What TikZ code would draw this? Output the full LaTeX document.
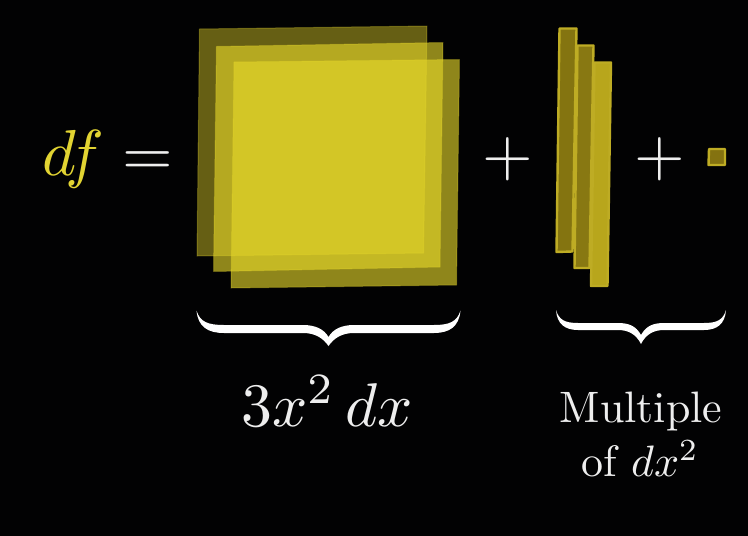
\documentclass[tikz,border=0pt]{standalone}
\usepackage{amsmath}
\definecolor{bgk}{RGB}{2,2,3}
\definecolor{ylw}{RGB}{230,216,42}
\definecolor{ylwtext}{RGB}{226,212,50}
\definecolor{edge}{RGB}{190,172,36}
\definecolor{whtext}{RGB}{238,238,238}
\tikzset{
  sheetA/.style={fill=ylw,fill opacity=.44,draw=ylw,draw opacity=.3,line width=1pt,line join=round},
  sheetB/.style={fill=ylw,fill opacity=.62,draw=ylw,draw opacity=.3,line width=1pt,line join=round},
  stripe/.style={draw=edge,line width=2.4pt,line join=round},
  curly/.style={fill=white,draw=none},
  bigmath/.style={text=whtext,scale=6.5,anchor=base,inner sep=0pt,outer sep=0pt},
  smalltext/.style={text=whtext,scale=4.4,anchor=base,inner sep=0pt,outer sep=0pt}
}
\begin{document}
\begin{tikzpicture}[x=1pt,y=-1pt]
\useasboundingbox (0,0) rectangle (748,536);
\fill[bgk] (0,0) rectangle (748,536);
% layered squares
\path[sheetA] (199.5,29) -- (427,26) -- (423.5,253) -- (197,256) -- cycle;
\path[sheetB] (216.5,46.5) -- (443,42.5) -- (440,267) -- (213.5,271.5) -- cycle;
\path[sheetB] (234,62) -- (459.5,59.5) -- (456.5,285) -- (231,288) -- cycle;
% layered strips
\path[stripe,fill={rgb,255:red,132;green,116;blue,16}] (559.5,28.5) -- (576.5,28.5) -- (572.5,251.5) -- (556.5,252) -- cycle;
\path[stripe,fill={rgb,255:red,136;green,120;blue,18}] (577.5,45.5) -- (593.5,45.5) -- (589.5,268) -- (574.5,268) -- cycle;
\path[stripe,fill={rgb,255:red,184;green,166;blue,28}] (594.5,62.5) -- (611,62.5) -- (607.5,286) -- (591,286) -- cycle;
% tiny cube
\path[stripe,fill={rgb,255:red,132;green,114;blue,16}] (709,149) -- (725,149) -- (725,165) -- (708.5,165) -- cycle;
% formula
\node[bigmath,text=ylwtext] (lhs) at (73,175) {$df$};
\node[bigmath] (eq) at (148,175) {$=$};
\node[bigmath] (plusa) at (508,175) {$+$};
\node[bigmath] (plusb) at (660,175) {$+$};
% braces
\path[curly] (196.5,310.5) .. controls (200,322) and (208,325) .. (224,325) -- (303,325)
  .. controls (315,325) and (324,329) .. (328.5,337)
  .. controls (333,329) and (342,325) .. (354,325) -- (434,325)
  .. controls (449,325) and (457,322) .. (460.5,310.5)
  .. controls (459,327) and (449,333) .. (434,333) -- (354,333)
  .. controls (342,333) and (334,338) .. (328.5,346)
  .. controls (323,338) and (315,333) .. (303,333) -- (224,333)
  .. controls (208,333) and (198,327) .. (196.5,310.5) -- cycle;
\path[curly] (556,310) .. controls (559,320) and (565,323) .. (578,323) -- (618,323)
  .. controls (629,323) and (636,326) .. (641,335)
  .. controls (646,326) and (653,323) .. (664,323) -- (704,323)
  .. controls (717,323) and (723,320) .. (726,310)
  .. controls (725,324) and (717,330) .. (704,330) -- (664,330)
  .. controls (654,330) and (646,334) .. (641,344)
  .. controls (636,334) and (628,330) .. (618,330) -- (578,330)
  .. controls (565,330) and (557,324) .. (556,310) -- cycle;
% labels
\node[bigmath,scale=.95] (terma) at (327,426) {$3x^2\,dx$};
\node[smalltext] (multa) at (641,422) {Multiple};
\node[smalltext] (multb) at (640,476) {of $dx^2$};
\end{tikzpicture}
\end{document}
